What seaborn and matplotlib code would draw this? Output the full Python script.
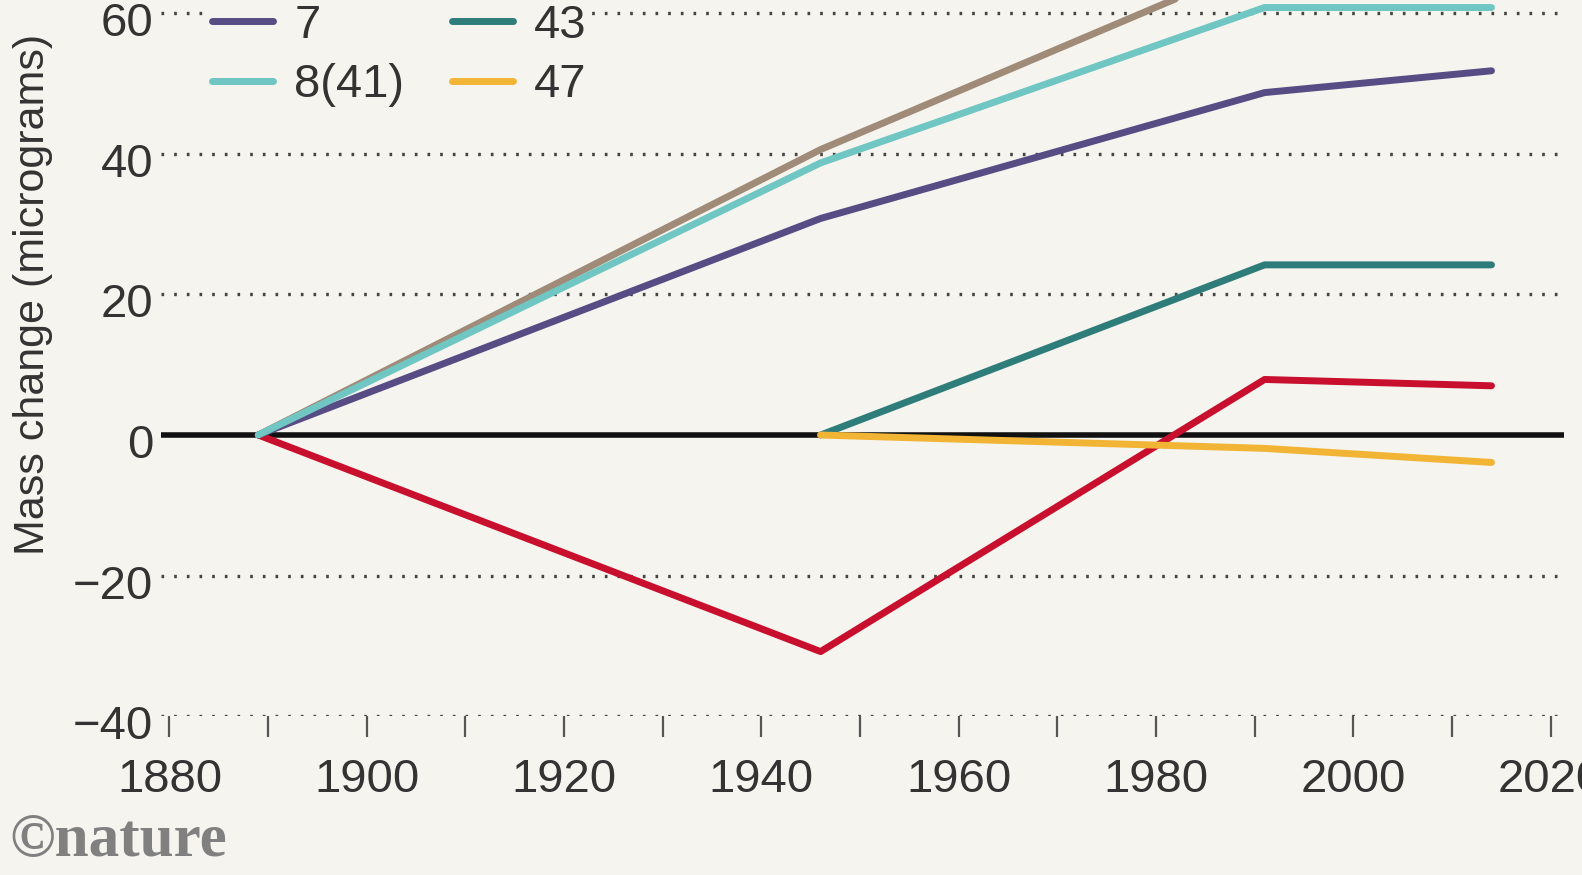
import matplotlib.pyplot as plt
import matplotlib.transforms as mtransforms
import seaborn as sns
import pandas as pd

# verification years and mass change (micrograms) per copy
years = [1889, 1946, 1991, 2014]
years_late = [1946, 1991, 2014]
copy_7 = [0, 30.8, 48.7, 51.8]
copy_8_41 = [0, 38.7, 60.8, 60.8]
copy_brown = [0, 40.6, 67.4, 69.0]
copy_red = [0, -30.8, 7.9, 7.0]
copy_43 = [0, 24.2, 24.2]
copy_47 = [0, -1.9, -3.9]

bg = "#f5f4ee"
sns.set_style("white")
plt.rcParams["font.family"] = ["Liberation Sans", "DejaVu Sans"]

fig = plt.figure(figsize=(15.82, 8.75), dpi=100, facecolor=bg)
ax = fig.add_axes([0.102, 0.1814, 0.8865, 0.9643])
ax.set_facecolor(bg)

series = [
    ("brown", years, copy_brown, "#a08b79"),
    ("red", years, copy_red, "#c8102e"),
    ("7", years, copy_7, "#574c84"),
    ("8(41)", years, copy_8_41, "#6fc6c3"),
    ("43", years_late, copy_43, "#2f7d7b"),
    ("47", years_late, copy_47, "#f1b434"),
]

ax.axhline(0, color="#111111", lw=4.0, zorder=1)
for y in [-40, -20, 20, 40, 60]:
    ax.axhline(y, color="#444444", lw=2.4, ls=(0, (0.8, 3.0)), zorder=0)

handles = {}
for name, xs, ys, col in series:
    df = pd.DataFrame({"year": xs, "mass": ys})
    sns.lineplot(data=df, x="year", y="mass", color=col, lw=5.0, ax=ax, zorder=3)
    handles[name] = ax.lines[-1]

ax.set_xlim(1879.18, 2021.33)
ax.set_ylim(-40, 80)
ax.set_xticks(range(1880, 2021, 20))
ax.set_xticks(range(1890, 2021, 20), minor=True)
ax.set_yticks([-40, -20, 0, 20, 40, 60])
ax.set_yticklabels(["\u221240", "\u221220", "0", "20", "40", "60"])
ax.tick_params(axis="x", which="both", bottom=True, length=15, width=1.6,
               color="#555555", labelsize=34, pad=15, labelcolor="#333333")
ax.tick_params(axis="y", left=False, length=0, labelsize=34, pad=6,
               labelcolor="#333333")
shift = mtransforms.ScaledTranslation(0, -6 / 100, fig.dpi_scale_trans)
for lab in ax.get_yticklabels():
    lab.set_transform(lab.get_transform() + shift)
for s in ax.spines.values():
    s.set_visible(False)
ax.set_xlabel("")
ax.set_ylabel("Mass change (micrograms)", fontsize=31, color="#333333", labelpad=14)

leg = ax.legend([handles["7"], handles["8(41)"], handles["43"], handles["47"]],
                ["7", "8(41)", "43", "47"], ncol=2, loc="upper left",
                bbox_to_anchor=(0.116, 1.028), bbox_transform=fig.transFigure,
                fontsize=34, frameon=True, facecolor=bg, edgecolor="none",
                framealpha=1, handlelength=1.3, handletextpad=0.45,
                columnspacing=1.0, labelspacing=0.33, borderpad=0.1)
for t in leg.get_texts():
    t.set_color("#333333")

fig.text(0.006, 0.022, "\u00a9nature", fontsize=44, fontweight="bold",
         family=["Liberation Serif", "DejaVu Serif"], color="#808080")

fig.savefig("out.png", dpi=100, facecolor=bg)
